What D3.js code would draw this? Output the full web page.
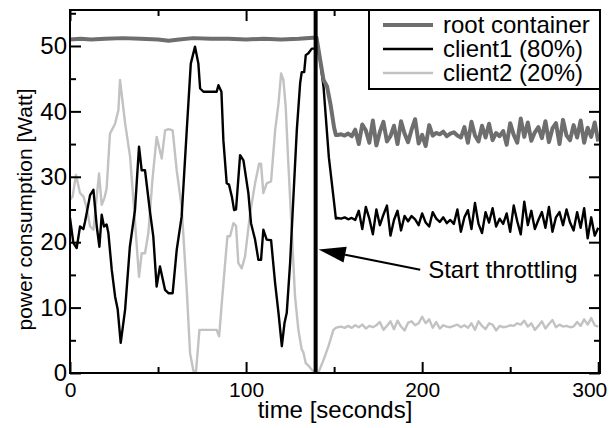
<!DOCTYPE html>
<html>
<head>
<meta charset="utf-8">
<script src="https://cdn.jsdelivr.net/npm/d3@7"></script>
<style>
  body { margin: 0; background: #fff; }
  svg text { font-family: "Liberation Sans", Arial, Helvetica, sans-serif; fill: #000; }
</style>
</head>
<body>
<div id="chart"></div>
<script>
// series names for the legend
var seriesNames = ["root container", "client1 (80%)", "client2 (20%)"];

// time of the throttling event (seconds)
var throttleTime = 139.5;

// before / around throttling: [time, watt]
var rootHead = [[0, 51.0], [6, 51.1], [12, 51.0], [20, 51.1], [30, 51.2], [40, 51.1], [50, 51.0],
    [56, 50.8], [62, 51.0], [70, 51.2], [80, 51.1], [90, 51.1], [100, 51.0], [110, 51.1],
    [120, 51.0], [130, 51.1], [140, 51.3], [142, 48.0], [144, 44.8], [146, 43.8], [148, 41.0],
    [150, 37.5], [151, 36.4]];

var client1Head = [[0, 23.7], [1.9, 19.9], [3.8, 19.1], [5.7, 22.4], [7.6, 22.0], [8.5, 23.1],
    [9.8, 24.9], [11.4, 27.2], [13.3, 28.0], [15.2, 22.4], [16.7, 19.3], [18, 24.2], [19.3, 22.4],
    [20.8, 22.7], [21.8, 21.4], [23.7, 15.8], [25.6, 11.7], [27.1, 9.7], [28.8, 4.6], [31.3, 9.7],
    [34, 19.3], [36.9, 24.9], [39.2, 34.6], [40.7, 31.0], [42.6, 31.0], [45.5, 24.5], [47.3, 20.9],
    [49.2, 13.2], [51.1, 16.3], [54, 12.7], [55.9, 12.2], [58.3, 12.2], [60.6, 18.8], [63.4, 23.9],
    [66.3, 37.1], [68.6, 47.3], [71, 49.9], [72.9, 47.3], [73.9, 43.5], [75.8, 43.0], [83.3, 43.0],
    [84.3, 44.0], [86, 43.0], [87.1, 35.6], [89, 29.0], [90.3, 28.8], [91.9, 27.0], [93.2, 24.9],
    [94.3, 25.0], [96.6, 33.3], [98.5, 32.5], [101.3, 27.5], [102.8, 22.9], [105.1, 20.4],
    [107, 17.3], [108.5, 17.3], [109.8, 21.9], [111.7, 20.4], [114.2, 20.3], [116.5, 13.7],
    [118.4, 9.2], [120.3, 4.1], [121.8, 7.6], [123.1, 9.2], [125, 16.8], [126.9, 27.0],
    [128.8, 37.1], [130.7, 44.3], [131.6, 46.0], [133, 46.0], [133.9, 48.6], [135.4, 48.9],
    [137.3, 49.6], [139.2, 49.6], [141, 49.9], [144, 43.7], [147, 33.0], [150, 26.0], [151, 23.6]];

var client2Head = [[0, 26.5], [1.5, 27.0], [3.4, 30.3], [5.7, 27.5], [7.6, 27.0], [9.5, 25.2],
    [11.4, 22.4], [13.3, 21.9], [15.2, 27.0], [16.5, 30.5], [18, 25.7], [19.5, 26.7], [20.8, 28.2],
    [22.7, 36.6], [25.6, 38.1], [27.5, 40.2], [28.4, 44.8], [31.3, 38.2], [34.1, 33.1], [36, 26.5],
    [39.2, 14.7], [40.7, 18.3], [42.6, 18.3], [44.5, 21.4], [46.8, 29.5], [49.2, 36.1], [52.1, 32.8],
    [54, 37.1], [55.9, 37.3], [58.3, 37.1], [60.6, 31.0], [63.4, 25.4], [66.3, 12.7], [68.2, 3.0],
    [70.1, 0.3], [71.6, 0.3], [73.5, 6.6], [75.8, 6.6], [83.3, 6.6], [84.7, 5.6], [86.2, 10.7],
    [88.1, 16.8], [89.4, 20.9], [90.9, 20.9], [92.8, 22.9], [94.3, 22.5], [95.6, 16.8], [97.5, 16.0],
    [99.4, 17.8], [102.3, 24.4], [105.1, 29.0], [107.4, 32.0], [108.5, 32.0], [109.8, 27.5],
    [111.7, 29.0], [114.2, 29.3], [116.5, 37.1], [118.4, 41.2], [119.9, 45.8], [121.2, 44.8],
    [122.5, 40.7], [124, 32.0], [125.9, 21.9], [127.8, 11.7], [129.7, 6.6], [131.6, 3.6],
    [132.5, 3.2], [133.9, 1.5], [135.8, 1.0], [138.3, 0.2], [141, 0.0], [144, 2.0], [146.8, 4.1],
    [149.6, 6.6], [151, 6.9]];

// after throttling: one reading every 2 seconds, 152 .. 300
var tailTimes = d3.range(152, 301, 2);

var rootTail = [36.4, 36.5, 36.3, 36.6, 36.2,
    37.2, 35.0, 38.0, 37.1, 35.2, 38.6, 34.8, 36.9, 38.4, 35.4, 36.2, 37.8, 35.0, 38.5, 36.6, 35.3,
    37.2, 38.8, 35.1, 36.4, 34.7, 37.9,
    36.3, 36.7, 36.5, 36.9, 36.2, 36.6, 36.8, 36.3, 36.0,
    37.6, 35.2, 38.4, 36.3, 35.4, 37.8, 36.0, 38.1, 35.6, 36.7, 36.2, 37.0, 34.9, 38.2, 36.4, 35.2,
    38.9, 36.1, 38.3, 35.5, 36.8, 37.6, 35.9, 38.5, 35.3, 37.4, 38.2, 35.0, 38.7, 36.3, 35.6, 37.9,
    36.0, 38.6, 35.2, 37.5, 36.1, 38.3, 35.4];

var client1Tail = [23.7, 23.6, 23.8, 23.5, 23.7, 23.4,
    24.8, 22.0, 25.4, 23.6, 21.2, 25.0, 22.6, 24.2, 25.6, 21.0, 23.4, 24.8, 21.8, 24.0,
    23.2, 24.0, 23.5, 22.6, 24.4, 23.0, 22.4, 24.6, 23.6, 23.1, 23.8, 22.9, 23.4, 22.8,
    25.0, 21.6, 23.8, 24.9, 22.0, 26.0, 22.8, 21.4, 24.6, 23.0, 25.2, 22.4, 23.6, 22.8, 24.4, 21.6,
    25.6, 23.2, 21.2, 26.2, 22.6, 24.8, 22.0, 23.4, 24.6, 22.2, 25.4, 21.6, 23.8, 24.6, 22.6, 25.0,
    23.0, 21.8, 24.6, 22.2, 25.2, 20.6, 23.8, 21.0, 22.2];

var client2Tail = [7.0, 7.1, 6.9, 7.2, 6.9, 7.3, 7.0, 7.4, 6.8, 7.2, 7.0, 7.3,
    7.8, 6.6, 7.2, 7.9, 6.7, 8.0, 7.1, 6.5, 7.7, 7.9, 7.3, 7.6,
    8.6, 7.6, 8.2, 6.9, 7.8, 6.8, 7.3,
    7.1, 7.0, 7.2, 7.4, 7.0, 7.3, 6.9, 7.6,
    6.6, 7.9, 7.2, 6.7, 7.6, 7.4, 6.5, 7.2,
    7.0, 7.1, 7.3, 7.2, 7.6,
    7.4, 8.0, 7.1, 7.6, 6.6, 7.2, 7.9, 6.8, 7.5, 8.1, 7.0, 7.4, 7.1, 7.2, 7.0,
    7.1, 7.8, 7.2, 8.2, 7.4, 8.4, 7.3, 7.1];

var xTicks = [0, 100, 200, 300];
var xMinorTicks = [50, 150, 250];
var yTicks = [0, 10, 20, 30, 40, 50];
var yMinorTicks = [5, 15, 25, 35, 45, 55];

// chart setup
var margin = {left: 70, right: 13, top: 10, bottom: 55};
var W = 613, H = 428;
var width = W - margin.left - margin.right;
var height = H - margin.top - margin.bottom;

var svg = d3.select("#chart").append("svg")
    .attr("width", W)
    .attr("height", H);

var g = svg.append("g")
    .attr("transform", "translate(" + margin.left + "," + margin.top + ")");

var x = d3.scaleLinear().domain([0, 301]).range([0, width]);
var y = d3.scaleLinear().domain([0, 55.5]).range([height, 0]);

function joinSeries(head, tail) {
    var pts = head.slice();
    tail.forEach(function(v, i) { pts.push([tailTimes[i], v]); });
    return pts;
}

var series = [
    {name: seriesNames[0], pts: joinSeries(rootHead, rootTail), color: "#6e6e6e", w: 4},
    {name: seriesNames[1], pts: joinSeries(client1Head, client1Tail), color: "#000000", w: 2.4},
    {name: seriesNames[2], pts: joinSeries(client2Head, client2Tail), color: "#c2c2c2", w: 2.4}
];

var line = d3.line()
    .x(function(d) { return x(d[0]); })
    .y(function(d) { return y(d[1]); });

g.append("clipPath").attr("id", "clip")
    .append("rect").attr("width", width).attr("height", height);

// draw order: client2 below, then client1, root on top
var plot = g.append("g").attr("clip-path", "url(#clip)");
[2, 1, 0].forEach(function(i) {
    plot.append("path")
        .datum(series[i].pts)
        .attr("fill", "none")
        .attr("stroke", series[i].color)
        .attr("stroke-width", series[i].w)
        .attr("stroke-linejoin", "round")
        .attr("d", line);
});

// throttling marker
g.append("line")
    .attr("x1", x(throttleTime)).attr("x2", x(throttleTime))
    .attr("y1", 0).attr("y2", height)
    .attr("stroke", "#000")
    .attr("stroke-width", 4);

// axes with inward ticks on all four sides
function addAxis(axis, transform) {
    var a = g.append("g").attr("transform", transform).call(axis);
    a.select(".domain").remove();
    a.selectAll("line").attr("stroke", "#000").attr("stroke-width", 2);
    return a;
}
var fontSize = 24;

var xb = addAxis(d3.axisBottom(x).tickValues(xTicks).tickSize(-11).tickPadding(9), "translate(0," + height + ")");
xb.selectAll("text")
    .attr("font-size", 21)
    .attr("dx", function(d) { return d === 300 ? -9 : 0; });
addAxis(d3.axisBottom(x).tickValues(xMinorTicks).tickSize(-6).tickFormat(""), "translate(0," + height + ")");
addAxis(d3.axisTop(x).tickValues(xTicks).tickSize(-11).tickFormat(""), "translate(0,0)");
addAxis(d3.axisTop(x).tickValues(xMinorTicks).tickSize(-6).tickFormat(""), "translate(0,0)");

var yl = addAxis(d3.axisLeft(y).tickValues(yTicks).tickSize(-11).tickPadding(3), "translate(0,0)");
yl.selectAll("text").attr("font-size", fontSize);
addAxis(d3.axisLeft(y).tickValues(yMinorTicks).tickSize(-6).tickFormat(""), "translate(0,0)");
addAxis(d3.axisRight(y).tickValues(yTicks).tickSize(-11).tickFormat(""), "translate(" + width + ",0)");
addAxis(d3.axisRight(y).tickValues(yMinorTicks).tickSize(-6).tickFormat(""), "translate(" + width + ",0)");

// frame
g.append("rect")
    .attr("width", width).attr("height", height)
    .attr("fill", "none").attr("stroke", "#000").attr("stroke-width", 2);

// axis labels
svg.append("text")
    .attr("x", margin.left + width / 2)
    .attr("y", 418)
    .attr("text-anchor", "middle")
    .attr("font-size", fontSize)
    .text("time [seconds]");

svg.append("text")
    .attr("transform", "translate(32," + (margin.top + height / 2 + 18) + ") rotate(-90)")
    .attr("text-anchor", "middle")
    .attr("font-size", 21)
    .text("power consumption [Watt]");

// annotation arrow
var tip = [x(141.2), y(18.9)];
var tail = [x(198.9), y(15.8)];
var ang = Math.atan2(tail[1] - tip[1], tail[0] - tip[0]);
var headLen = 27, headHalf = 8;
var base = [tip[0] + headLen * Math.cos(ang), tip[1] + headLen * Math.sin(ang)];
g.append("line")
    .attr("x1", base[0]).attr("y1", base[1])
    .attr("x2", tail[0]).attr("y2", tail[1])
    .attr("stroke", "#000").attr("stroke-width", 2);
g.append("polygon")
    .attr("points", [
        tip,
        [base[0] - headHalf * Math.sin(ang), base[1] + headHalf * Math.cos(ang)],
        [base[0] + headHalf * Math.sin(ang), base[1] - headHalf * Math.cos(ang)]
    ].map(function(p) { return p.join(","); }).join(" "))
    .attr("fill", "#000");
g.append("text")
    .attr("x", x(203.4))
    .attr("y", y(14.5))
    .attr("font-size", fontSize)
    .text("Start throttling");

// legend
var lg = g.append("g").attr("transform", "translate(" + (width - 231) + ",0)");
lg.append("rect")
    .attr("width", 231).attr("height", 79)
    .attr("fill", "#fff").attr("stroke", "#000").attr("stroke-width", 2);
series.forEach(function(s, i) {
    var yy = 15 + i * 24;
    lg.append("line")
        .attr("x1", 14).attr("x2", 64)
        .attr("y1", yy).attr("y2", yy)
        .attr("stroke", s.color).attr("stroke-width", s.w);
    lg.append("text")
        .attr("x", 74).attr("y", yy)
        .attr("dy", "0.35em")
        .attr("font-size", fontSize)
        .text(s.name);
});
</script>
</body>
</html>
